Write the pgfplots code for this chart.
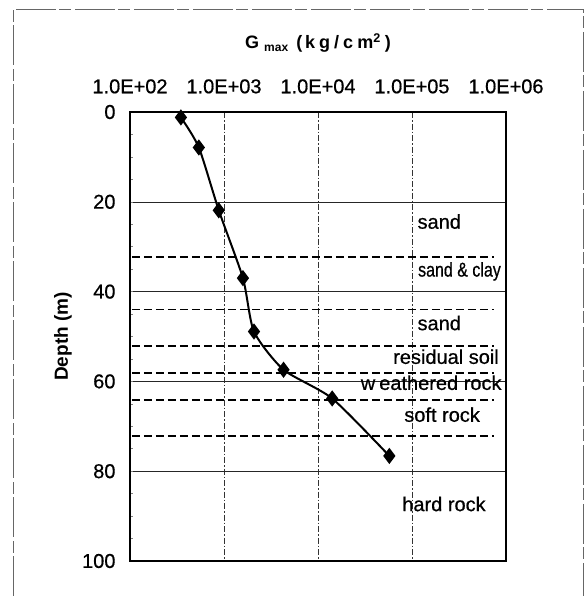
\documentclass[border=0pt]{standalone}
\usepackage{pgfplots}
\pgfplotsset{compat=1.18}
\usepackage{fontspec}
\setmainfont{Liberation Sans}
\newfontfamily\heavy{Liberation Sans}[FakeBold=0.6]
\begin{document}
\begin{tikzpicture}[x=1pt,y=1pt]
\useasboundingbox (0,0) rectangle (587,600);
% outer frame (scanned page border)
\draw[black!60, line width=0.8pt, dash pattern=on 40pt off 3pt on 12pt off 4pt] (13,4) -- (13,591) -- (583,591) -- (583,4);
\begin{axis}[
  at={(130pt,39pt)}, anchor=south west,
  scale only axis, width=376pt, height=449pt,
  xmode=log, xmin=1e2, xmax=1e6,
  ymin=0, ymax=100, y dir=reverse,
  axis line style={line width=1.6pt},
  xtick={1e2,1e3,1e4,1e5,1e6},
  xticklabels={1.0E+02,1.0E+03,1.0E+04,1.0E+05,1.0E+06},
  xticklabel pos=upper,
  ytick={0,20,40,60,80,100},
  minor y tick num=3,
  ytick pos=left,
  tick align=inside,
  xtick style={draw=none},
  minor xtick={},
  major tick length=3pt, minor tick length=3pt,
  ytick style={line width=0.6pt},
  xmajorgrids, ymajorgrids,
  x grid style={black!80, line width=0.5pt, dash pattern=on 6pt off 2pt on 1.5pt off 2pt},
  y grid style={black!85, line width=0.6pt},
  tick label style={font=\heavy\fontsize{20}{22}\selectfont},
  /pgf/number format/assume math mode=true,
  xticklabel style={yshift=15pt},
  yticklabel style={xshift=-11pt},
  ylabel={Depth (m)},
  ylabel style={font=\fontsize{19}{22}\selectfont\bfseries, at={(axis description cs:-0.178,0.5)}, anchor=center},
  title={G\hspace{5pt}{\fontsize{12}{14}\selectfont\raisebox{-3pt}{max}}\hspace{8pt}(\hspace{3pt}k\hspace{4pt}g\hspace{4pt}/\hspace{4pt}c\hspace{4pt}m\textsuperscript{2}\hspace{4pt})},
  title style={font=\fontsize{18}{22}\selectfont\bfseries, at={(axis description cs:0.5,1)}, anchor=center, yshift=63pt},
  clip=false,
]
% layer boundaries
\addplot[black, line width=1.8pt, dash pattern=on 8pt off 4pt] coordinates {(1.05e2,32.3) (7.5e5,32.3)};
\addplot[black, line width=1.8pt, dash pattern=on 8pt off 4pt] coordinates {(1.05e2,44.0) (7.5e5,44.0)};
\addplot[black, line width=1.8pt, dash pattern=on 8pt off 4pt] coordinates {(1.05e2,52.2) (7.5e5,52.2)};
\addplot[black, line width=1.8pt, dash pattern=on 8pt off 4pt] coordinates {(1.05e2,58.2) (7.5e5,58.2)};
\addplot[black, line width=1.8pt, dash pattern=on 8pt off 4pt] coordinates {(1.05e2,64.2) (7.5e5,64.2)};
\addplot[black, line width=1.8pt, dash pattern=on 8pt off 4pt] coordinates {(1.05e2,72.1) (7.5e5,72.1)};
% Gmax profile
\addplot[black, line width=2pt, smooth, tension=0.4, mark=diamond*, mark size=6.5pt, mark options={solid, fill=black}]
coordinates {
(348,1.2) (540,7.9) (880,21.9) (1590,37.0) (2085,48.9) (4300,57.4) (14150,63.8) (57400,76.6)
};
% layer names
\begin{scope}[every node/.style={font=\heavy\fontsize{20}{22}\selectfont, inner sep=0pt}]
\node at (axis cs:1.95e5,24.4) {sand};
\node at (axis cs:3.2e5,35.5) {\scalebox{0.8}[1]{sand \& clay}};
\node at (axis cs:1.95e5,47.0) {sand};
\node at (axis cs:2.3e5,54.5) {residual soil};
\node at (axis cs:1.6e5,60.3) {w\kern4pt eathered rock};
\node at (axis cs:2.09e5,67.4) {soft rock};
\node at (axis cs:2.19e5,87.3) {hard rock};
\end{scope}
\end{axis}
\end{tikzpicture}
\end{document}
